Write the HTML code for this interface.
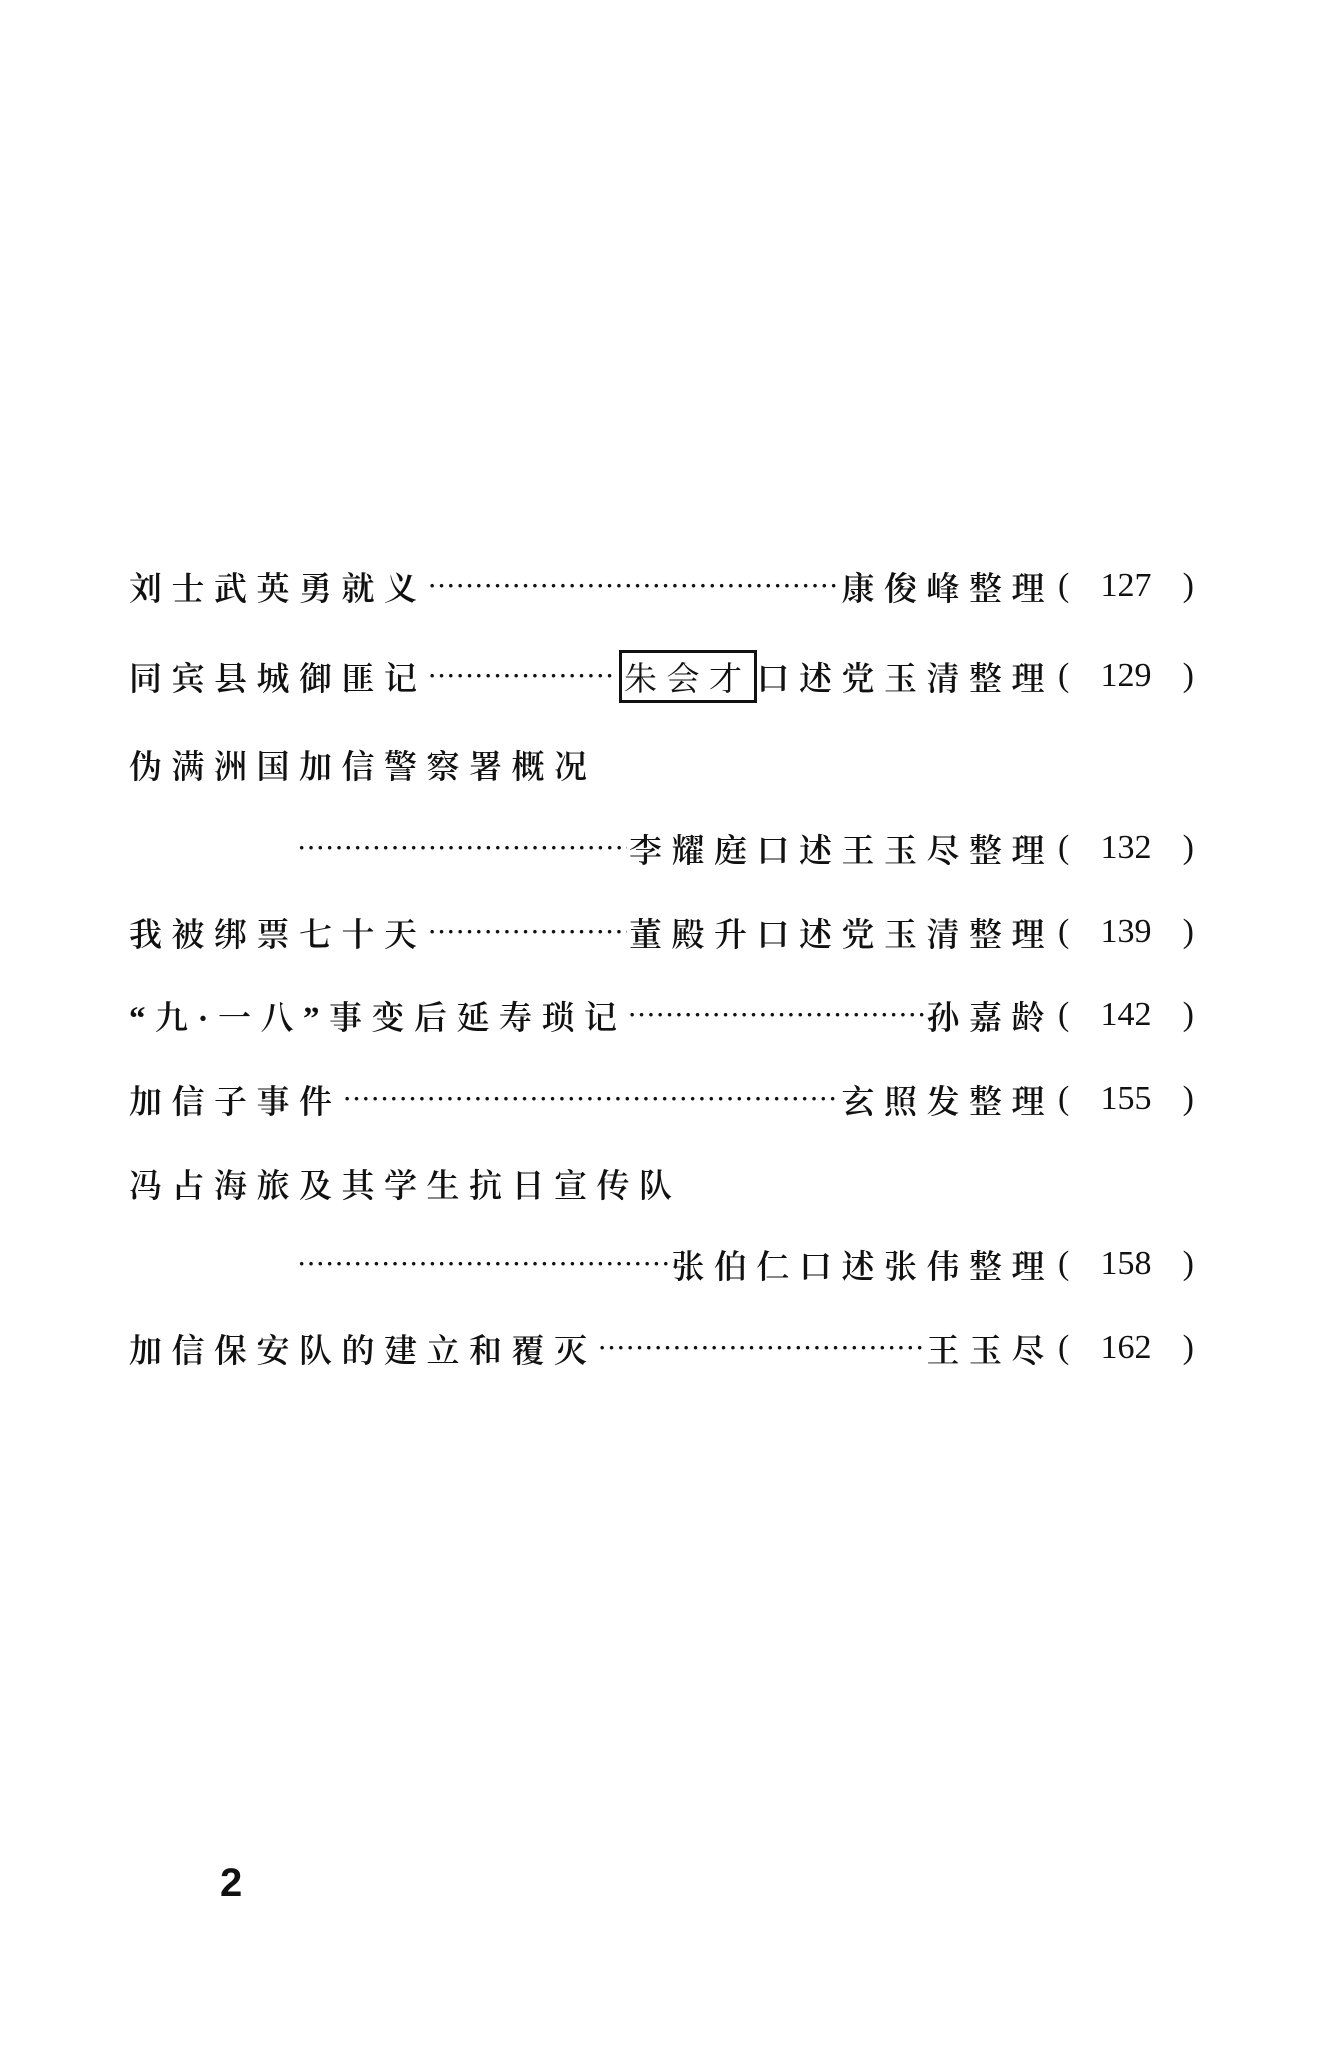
<!DOCTYPE html>
<html><head><meta charset="utf-8"><style>
body{margin:0;width:1320px;height:2045px;background:#fff;position:relative;overflow:hidden;font-family:"Liberation Serif","Noto Serif CJK SC",serif;color:#111}
.r{position:absolute;left:129px;width:1065px;height:46px;display:flex;align-items:center;font-size:33px;letter-spacing:9.5px;white-space:nowrap;font-weight:600}
.d{flex:1;overflow:hidden;letter-spacing:2px;font-size:22px;margin:0 2px}
.n{width:136px;display:flex;justify-content:space-between;letter-spacing:0;font-weight:400;font-size:34px;margin-left:4px}
.n b{font-weight:400}
.box{border:3px solid #111;padding:0 2px;margin-left:4px;font-weight:400}
</style></head><body>
<div class="r" style="top:563px"><span>刘士武英勇就义</span><span class="d">·························································</span><span>康俊峰整理</span><span class="n"><b>(</b><b>127</b><b>)</b></span></div>
<div class="r" style="top:653px"><span>同宾县城御匪记</span><span class="d">·························································</span><span class="box">朱会才</span><span>口述党玉清整理</span><span class="n"><b>(</b><b>129</b><b>)</b></span></div>
<div class="r" style="top:741px"><span>伪满洲国加信警察署概况</span></div>
<div class="r" style="top:825px;left:296px;width:898px"><span class="d">·························································</span><span>李耀庭口述王玉尽整理</span><span class="n"><b>(</b><b>132</b><b>)</b></span></div>
<div class="r" style="top:909px"><span>我被绑票七十天</span><span class="d">·························································</span><span>董殿升口述党玉清整理</span><span class="n"><b>(</b><b>139</b><b>)</b></span></div>
<div class="r" style="top:992px"><span>“九·一八”事变后延寿琐记</span><span class="d">·························································</span><span>孙嘉龄</span><span class="n"><b>(</b><b>142</b><b>)</b></span></div>
<div class="r" style="top:1076px"><span>加信子事件</span><span class="d">·························································</span><span>玄照发整理</span><span class="n"><b>(</b><b>155</b><b>)</b></span></div>
<div class="r" style="top:1160px"><span>冯占海旅及其学生抗日宣传队</span></div>
<div class="r" style="top:1241px;left:296px;width:898px"><span class="d">·························································</span><span>张伯仁口述张伟整理</span><span class="n"><b>(</b><b>158</b><b>)</b></span></div>
<div class="r" style="top:1325px"><span>加信保安队的建立和覆灭</span><span class="d">·························································</span><span>王玉尽</span><span class="n"><b>(</b><b>162</b><b>)</b></span></div>
<div style="position:absolute;left:220px;top:1861px;font:bold 40px 'Liberation Sans',sans-serif">2</div>
</body></html>
